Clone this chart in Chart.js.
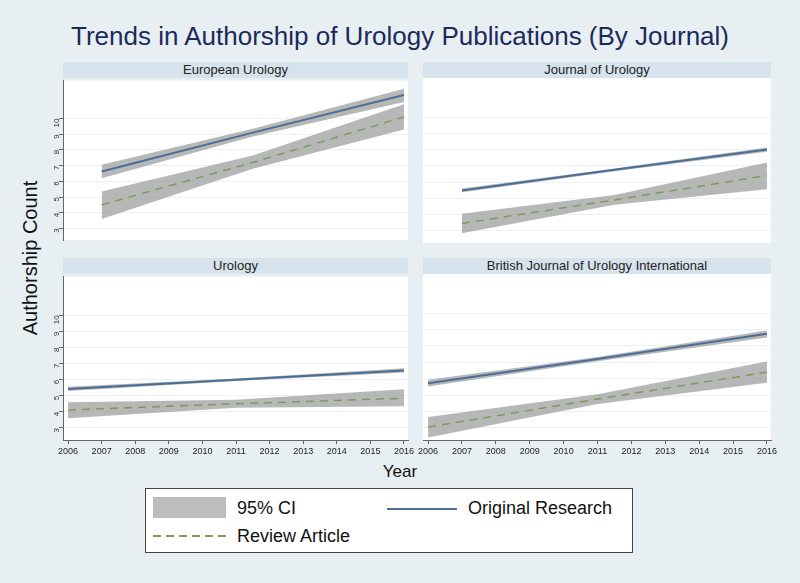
<!DOCTYPE html>
<html>
<head>
<meta charset="utf-8">
<script src="https://cdn.jsdelivr.net/npm/chart.js@4"></script>
<style>
  body { margin: 0; background: #e8eff3; font-family: "Liberation Sans", Arial, sans-serif; }
  #wrap { position: relative; width: 800px; height: 583px; overflow: hidden; background: #e8eff3; }
  .abs { position: absolute; }
  .head { position: absolute; height: 16px; line-height: 16px; background: #d6e3ec; color: #222; font-size: 13px; text-align: center; }
  canvas { position: absolute; }
</style>
</head>
<body>
<div id="wrap">
  <div class="abs" style="left:0;top:21px;width:800px;text-align:center;font-size:26px;color:#1c2a5a;">Trends in Authorship of Urology Publications (By Journal)</div>
  <div class="abs" style="left:30px;top:258px;transform:translate(-50%,-50%) rotate(-90deg);font-size:20px;color:#111;white-space:nowrap;">Authorship Count</div>
  <div class="abs" style="left:0;top:462px;width:800px;text-align:center;font-size:17px;color:#111;">Year</div>

  <div class="abs" style="left:145px;top:488px;width:486px;height:63px;background:#fff;border:1px solid #444;"></div>
  <div class="abs" style="left:153px;top:497px;width:73px;height:21px;background:#bdbdbd;"></div>
  <div class="abs" style="left:237px;top:497px;font-size:18px;color:#111;line-height:22px;">95% CI</div>
  <div class="abs" style="left:387px;top:508px;width:70px;height:2px;background:#4a6e96;"></div>
  <div class="abs" style="left:468px;top:497px;font-size:18px;color:#111;line-height:22px;">Original Research</div>
  <div class="abs" style="left:153px;top:535px;width:73px;height:2px;background:repeating-linear-gradient(to right,#7d9a5a 0 8px,transparent 8px 13px);"></div>
  <div class="abs" style="left:237px;top:525px;font-size:18px;color:#111;line-height:22px;">Review Article</div>
</div>
<script>
// Jahre und Werte je Journal (aus dem Bild geschätzt)
const panelTitles = ["European Urology", "Journal of Urology", "Urology", "British Journal of Urology International"];
const yearTicks = [2006, 2007, 2008, 2009, 2010, 2011, 2012, 2013, 2014, 2015, 2016];
const countTicks = [3, 4, 5, 6, 7, 8, 9, 10];

const euYears = [2007, 2011.5, 2016];
const euOrig = [6.63, 9.1, 11.5];
const euOrigLo = [6.2, 8.85, 11.05];
const euOrigHi = [7.05, 9.35, 11.9];
const euRev = [4.5, 7.2, 10.1];
const euRevLo = [3.6, 6.8, 9.3];
const euRevHi = [5.35, 7.65, 10.9];

const juYears = [2007, 2011.5, 2016];
const juOrig = [5.48, 6.75, 8.0];
const juOrigLo = [5.37, 6.67, 7.87];
const juOrigHi = [5.6, 6.83, 8.13];
const juRev = [3.45, 4.9, 6.4];
const juRevLo = [2.85, 4.6, 5.55];
const juRevHi = [4.05, 5.2, 7.2];

const urYears = [2006, 2011, 2016];
const urOrig = [5.42, 6.0, 6.58];
const urOrigLo = [5.3, 5.92, 6.45];
const urOrigHi = [5.56, 6.08, 6.71];
const urRev = [4.12, 4.5, 4.85];
const urRevLo = [3.6, 4.25, 4.35];
const urRevHi = [4.6, 4.75, 5.4];

const bjYears = [2006, 2011, 2016];
const bjOrig = [5.72, 7.2, 8.74];
const bjOrigLo = [5.52, 7.07, 8.52];
const bjOrigHi = [5.93, 7.33, 8.95];
const bjRev = [3.04, 4.75, 6.4];
const bjRevLo = [2.4, 4.45, 5.75];
const bjRevHi = [3.65, 5.05, 7.05];

// Plotbereiche: links, oben, rechts, unten
const panels = [
  { title: panelTitles[0], area: [63, 78, 408, 243], left: true, bottom: false,
    years: euYears, orig: euOrig, origLo: euOrigLo, origHi: euOrigHi, rev: euRev, revLo: euRevLo, revHi: euRevHi },
  { title: panelTitles[1], area: [423, 78, 771, 243], left: false, bottom: false,
    years: juYears, orig: juOrig, origLo: juOrigLo, origHi: juOrigHi, rev: juRev, revLo: juRevLo, revHi: juRevHi },
  { title: panelTitles[2], area: [63, 274, 408, 440], left: true, bottom: true,
    years: urYears, orig: urOrig, origLo: urOrigLo, origHi: urOrigHi, rev: urRev, revLo: urRevLo, revHi: urRevHi },
  { title: panelTitles[3], area: [423, 274, 771, 440], left: false, bottom: true,
    years: bjYears, orig: bjOrig, origLo: bjOrigLo, origHi: bjOrigHi, rev: bjRev, revLo: bjRevLo, revHi: bjRevHi },
];

const wrap = document.getElementById("wrap");
const bandColor = "rgba(155,155,155,0.72)";

function pts(xs, ys) {
  return xs.map((x, i) => ({ x: x, y: ys[i] }));
}

// weißer Hintergrund im Plotbereich
const whiteArea = {
  id: "whiteArea",
  beforeDraw(chart) {
    const a = chart.chartArea;
    chart.ctx.save();
    chart.ctx.fillStyle = "#ffffff";
    chart.ctx.fillRect(a.left, a.top, a.right - a.left, a.bottom - a.top);
    chart.ctx.restore();
  },
};

panels.forEach((p) => {
  const [l, t, r, b] = p.area;
  const axisW = 25, padR = 15, padT = 4, xH = p.bottom ? 22 : 0, padB = p.bottom ? 0 : 4;

  const head = document.createElement("div");
  head.className = "head";
  head.style.left = l + "px";
  head.style.top = (t - 16) + "px";
  head.style.width = (r - l) + "px";
  head.textContent = p.title;
  wrap.appendChild(head);

  const cv = document.createElement("canvas");
  const w = (r - l) + axisW + padR;
  const h = (b - t) + padT + xH + padB;
  cv.width = w; cv.height = h;
  cv.style.left = (l - axisW) + "px";
  cv.style.top = (t - padT) + "px";
  cv.style.width = w + "px";
  cv.style.height = h + "px";
  wrap.appendChild(cv);

  new Chart(cv.getContext("2d"), {
    type: "line",
    data: {
      datasets: [
        { data: pts(p.years, p.orig), borderColor: "#4a6e96", borderWidth: 2, pointRadius: 0, fill: false, order: 0 },
        { data: pts(p.years, p.rev), borderColor: "#7d9a5a", borderWidth: 1.5, borderDash: [8, 6], pointRadius: 0, fill: false, order: 0 },
        { data: pts(p.years, p.origLo), borderWidth: 0, pointRadius: 0, fill: false, order: 1 },
        { data: pts(p.years, p.origHi), borderWidth: 0, pointRadius: 0, fill: 2, backgroundColor: bandColor, order: 1 },
        { data: pts(p.years, p.revLo), borderWidth: 0, pointRadius: 0, fill: false, order: 1 },
        { data: pts(p.years, p.revHi), borderWidth: 0, pointRadius: 0, fill: 4, backgroundColor: bandColor, order: 1 },
      ],
    },
    options: {
      responsive: false,
      animation: false,
      events: [],
      layout: { padding: { left: 0, top: padT, right: padR, bottom: padB } },
      plugins: { legend: { display: false }, tooltip: { enabled: false } },
      scales: {
        x: {
          type: "linear",
          min: 2005.85,
          max: 2016.12,
          display: p.bottom,
          afterBuildTicks: (s) => { s.ticks = yearTicks.map((v) => ({ value: v })); },
          afterFit: (s) => { s.height = xH; },
          grid: { drawOnChartArea: false, tickLength: 4, tickColor: "#666" },
          border: { display: true, color: "#666" },
          ticks: { color: "#222", font: { size: 9, family: "Liberation Sans" }, padding: 2, maxRotation: 0, autoSkip: false,
                   callback: (v) => String(v) },
        },
        y: {
          type: "linear",
          min: 2.25,
          max: 12.4,
          afterBuildTicks: (s) => { s.ticks = countTicks.map((v) => ({ value: v })); },
          afterFit: (s) => { s.width = axisW; },
          grid: { color: "#edf1f4", drawTicks: p.left, tickLength: 4, tickColor: "#666" },
          border: { display: p.left, color: "#666" },
          ticks: { display: p.left, color: "#333", font: { size: 8, family: "Liberation Sans" }, padding: 2, minRotation: 90, maxRotation: 90 },
        },
      },
    },
    plugins: [whiteArea],
  });
});
</script>
</body>
</html>
